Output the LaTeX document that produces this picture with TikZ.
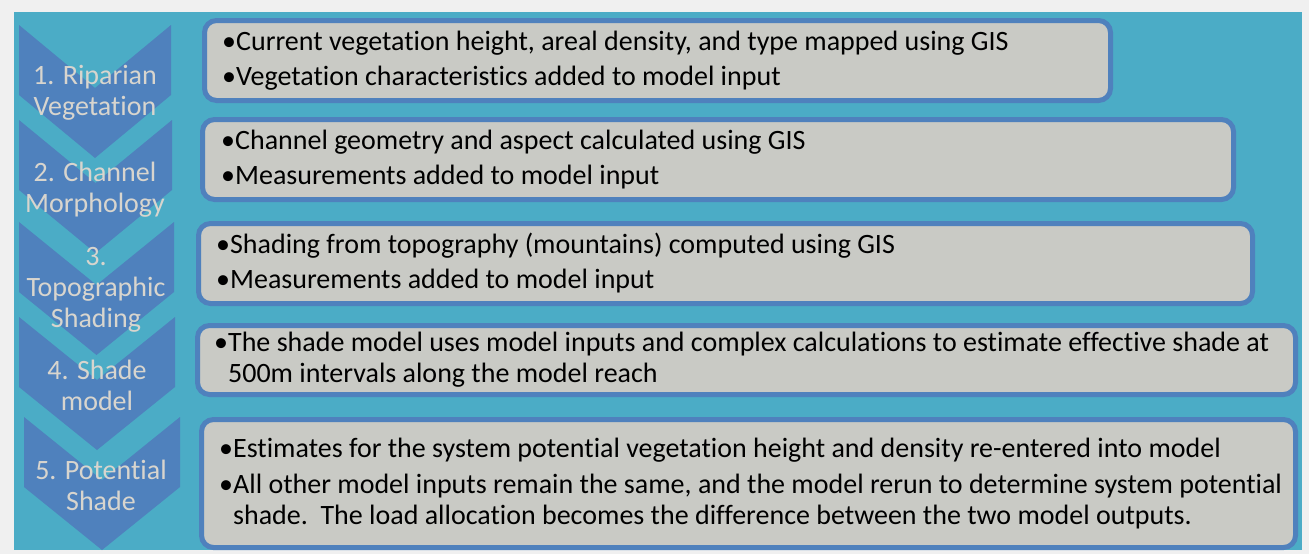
\documentclass[tikz,border=0pt]{standalone}
\usepackage{fontspec}
\setmainfont{Carlito}[Ligatures=NoCommon,Contextuals=NoAlternate]

\definecolor{pagegrey}{RGB}{240,240,240}
\definecolor{panel}{RGB}{75,172,198}
\definecolor{chevblue}{RGB}{79,129,189}
\definecolor{boxgrey}{RGB}{201,202,197}
\definecolor{steptext}{RGB}{216,213,206}

\tikzset{
  chevron/.style={fill=chevblue},
  steplabel/.style={text=steptext, align=center, inner sep=0pt,
    font=\fontsize{28}{31}\selectfont},
  notebox/.style={draw=chevblue, fill=boxgrey, line width=5pt, outer sep=2.5pt,
    rounded corners=12pt, anchor=north west},
  notetext/.style={anchor=west, align=left, inner sep=0pt, text=black,
    font=\fontsize{28}{31}\selectfont},
}

\begin{document}
\begin{tikzpicture}[x=1pt,y=-1pt]
  \useasboundingbox (0,0) rectangle (1309,554);
  \fill[pagegrey] (0,0) rectangle (1309,554);
  \fill[panel] (14,12) rectangle (1302,550);

  % the five steps, stacked downwards
  \foreach \l/\r/\t in {19/171/25, 19/172/120, 19/174/222, 19/175/317, 24/180/417}{
    \pgfmathsetmacro\c{(\l+\r)/2}
    \fill[chevron] (\l,\t) -- (\c,\t+63) -- (\r,\t) -- (\r,\t+70)
      -- (\c,\t+133) -- (\l,\t+70) -- cycle;
  }
  \node[steplabel] (lab1) at (95,93) {1. Riparian\\Vegetation};
  \node[steplabel] (lab2) at (95,190) {2. Channel\\Morphology};
  \node[steplabel] (lab3) at (96,290) {3.\\Topographic\\Shading};
  \node[steplabel] (lab4) at (97,385) {4. Shade\\model};
  \node[steplabel] (lab5) at (101,485) {5. Potential\\Shade};

  % what happens in each step
  \node[notebox, minimum width=906pt, minimum height=80pt] (box1) at (202,18) {};
  \node[notebox, minimum width=1031pt, minimum height=80pt] (box2) at (200,117) {};
  \node[notebox, minimum width=1054pt, minimum height=80pt] (box3) at (196,221) {};
  \node[notebox, minimum width=1098pt, minimum height=69pt] (box4) at (195,323) {};
  \node[notebox, minimum width=1094pt, minimum height=128pt] (box5) at (199,417) {};

  \node[notetext] (txt1) at ([xshift=20pt]box1.west)
    {•Current vegetation height, areal density, and type mapped using GIS\\[4pt]
     •Vegetation characteristics added to model input};
  \node[notetext] (txt2) at ([xshift=21pt]box2.west)
    {•Channel geometry and aspect calculated using GIS\\[4pt]
     •Measurements added to model input};
  \node[notetext] (txt3) at ([xshift=20pt]box3.west)
    {•Shading from topography (mountains) computed using GIS\\[4pt]
     •Measurements added to model input};
  \node[notetext] (txt4) at ([xshift=19pt]box4.west)
    {•The shade model uses model inputs and complex calculations to estimate effective shade at\\
     \phantom{•}500m intervals along the model reach};
  \node[notetext] (txt5) at ([xshift=20pt]box5.west)
    {•Estimates for the system potential vegetation height and density re-entered into model\\[5pt]
     •All other model inputs remain the same, and the model rerun to determine system potential\\
     \phantom{•}shade.\ \ The load allocation becomes the difference between the two model outputs.};
\end{tikzpicture}
\end{document}
